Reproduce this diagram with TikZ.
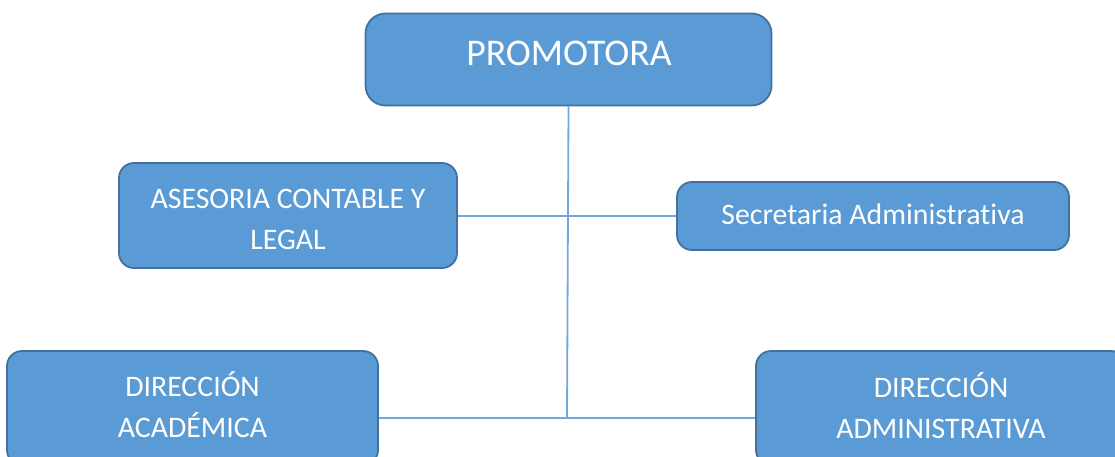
\documentclass[tikz,border=0pt]{standalone}
\usepackage{fontspec}
\setmainfont{Carlito}[Ligatures=NoCommon]
\definecolor{boxfill}{HTML}{5B9BD5}
\definecolor{boxline}{HTML}{41719C}
\definecolor{conn}{HTML}{6FA8DC}
\begin{document}
\begin{tikzpicture}[x=1pt,y=-1pt,
  box/.style={draw=boxline,line width=1.8pt,fill=boxfill,rounded corners=15pt,inner sep=0pt},
  lbl/.style={text=white,font=\fontsize{29.8}{41}\selectfont,anchor=base,inner sep=0pt},
  connector/.style={draw=conn,line width=1.8pt}]
\useasboundingbox (0,0) rectangle (1115,457);
\clip (0,0) rectangle (1115,457);
% connectors
\coordinate (junction) at (567,418);
\coordinate (midtop) at (567,216);
% boxes
\node[box,rounded corners=20pt,minimum width=406pt,minimum height=92pt] (promotora) at (568.5,59.5) {};
\node[box,minimum width=338pt,minimum height=105pt] (asesoria) at (288,215.5) {};
\node[box,minimum width=392pt,minimum height=68pt] (secretaria) at (873,216) {};
\node[box,minimum width=371pt,minimum height=114pt] (academica) at (192.5,408) {};
\node[box,minimum width=370pt,minimum height=114pt] (administrativa) at (941,408) {};
\draw[connector] (promotora.south) -- (junction);
\draw[connector] (asesoria.east |- midtop) -- (secretaria.west |- midtop);
\draw[connector] (academica.east |- junction) -- (administrativa.west |- junction);
% texts
\node[lbl,font=\fontsize{37.7}{44}\selectfont] (promotoraT) at (569,66) {PROMOTORA};
\node[lbl] (asesoriaT1) at (288,208) {ASESORIA CONTABLE Y};
\node[lbl] (asesoriaT2) at (288,249) {LEGAL};
\node[lbl] (secretariaT) at (873,224) {Secretaria Administrativa};
\node[lbl] (academicaT1) at (192.5,396) {DIRECCIÓN};
\node[lbl] (academicaT2) at (192.5,437) {ACADÉMICA};
\node[lbl] (administrativaT1) at (941,397) {DIRECCIÓN};
\node[lbl] (administrativaT2) at (941,438) {ADMINISTRATIVA};
\end{tikzpicture}
\end{document}
